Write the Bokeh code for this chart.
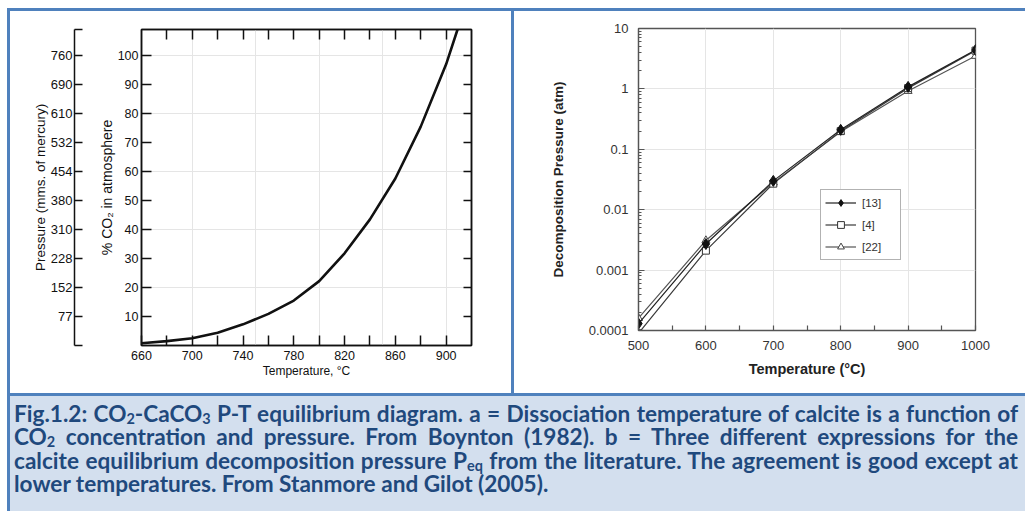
from bokeh.plotting import figure
from bokeh.models import (Range1d, LinearAxis, LogAxis, FixedTicker, Legend, LegendItem,
                          Div, Spacer)
from bokeh.layouts import row, column
from bokeh.embed import file_html
from bokeh.resources import INLINE

# ---------------- data : panel a (Boynton 1982) ----------------
temp_a = [660, 680, 700, 720, 740, 760, 780, 800, 820, 840, 860, 880, 900, 909]
co2_pct = [0.8, 1.5, 2.5, 4.4, 7.3, 10.9, 15.5, 22.2, 31.8, 43.5, 57.6, 75.5, 97.0, 109.0]
co2_ticks = [10, 20, 30, 40, 50, 60, 70, 80, 90, 100]
pressure_labels = ["77", "152", "228", "310", "380", "454", "532", "610", "690", "760"]
temp_a_labels = [660, 700, 740, 780, 820, 860, 900]
temp_a_minor = [680, 720, 760, 800, 840, 880]

# ---------------- data : panel b (Stanmore & Gilot 2005) ----------------
temp_b = [500, 600, 700, 800, 900, 1000]
p_13 = [0.00013, 0.0027, 0.030, 0.21, 1.08, 4.4]
p_4 = [0.00009, 0.0021, 0.027, 0.20, 1.03, 4.3]
p_22 = [0.00016, 0.0031, 0.028, 0.195, 0.92, 3.5]
series_labels = ["[13]", "[4]", "[22]"]
log_ticks = [0.0001, 0.001, 0.01, 0.1, 1, 10]
log_tick_labels = ["0.0001", "0.001", "0.01", "0.1", "1", "10"]
temp_b_ticks = [500, 600, 700, 800, 900, 1000]
temp_b_minor = [550, 650, 750, 850, 950]

BLUE = "#4F81BD"
CAP_BG = "#D3DFEE"
CAP_TXT = "#1F497D"
FA = "Liberation Sans"


def style_axis(ax, size, color, lcolor, lw):
    ax.major_label_text_font = FA
    ax.major_label_text_font_size = size
    ax.major_label_text_color = color
    ax.axis_label_text_font = FA
    ax.axis_line_color = lcolor
    ax.axis_line_width = lw
    ax.major_tick_line_color = lcolor
    ax.major_tick_line_width = lw
    ax.minor_tick_line_color = lcolor
    ax.minor_tick_line_width = lw


# ======================= panel a =======================
pa = figure(width=501, height=382, x_range=Range1d(660, 920), y_range=Range1d(0, 109),
            x_axis_location=None, y_axis_location=None,
            output_backend="svg", toolbar_location=None,
            min_border_left=131, min_border_right=40, min_border_top=18, min_border_bottom=48)
pa.frame_align = False
pa.outline_line_color = "#111111"
pa.outline_line_width = 1.5
pa.background_fill_color = "white"
pa.border_fill_color = "white"

ax_pct = LinearAxis(ticker=FixedTicker(ticks=co2_ticks), axis_label="% CO₂ in atmosphere")
style_axis(ax_pct, "12.5px", "#111111", "#111111", 1.5)
ax_pct.major_tick_in = 10
ax_pct.major_tick_out = 0
ax_pct.major_label_standoff = 3
ax_pct.axis_label_standoff = 0
ax_pct.axis_label_text_font_size = "14px"
ax_pct.axis_label_text_font_style = "normal"
ax_pct.axis_label_text_color = "#111111"
pa.add_layout(ax_pct, "left")

# empty axis used only as a spacer between the two left scales
ax_gap = LinearAxis(ticker=FixedTicker(ticks=[]), axis_label="\u00a0")
ax_gap.axis_line_color = None
ax_gap.major_tick_line_color = None
ax_gap.major_tick_in = 0
ax_gap.major_tick_out = 0
ax_gap.major_label_text_font_size = "0px"
ax_gap.major_label_standoff = 0
ax_gap.axis_label_text_font_size = "12px"
ax_gap.axis_label_standoff = 4
pa.add_layout(ax_gap, "left")

p_ticks = [0] + co2_ticks + [109]
p_over = {0: "", 109: ""}
for t, lab in zip(co2_ticks, pressure_labels):
    p_over[t] = lab
ax_p = LinearAxis(ticker=FixedTicker(ticks=p_ticks), major_label_overrides=p_over,
                  axis_label="Pressure (mms. of mercury)")
style_axis(ax_p, "13px", "#111111", "#111111", 1.5)
ax_p.major_tick_in = 8
ax_p.major_tick_out = 0
ax_p.major_label_standoff = 2
ax_p.axis_label_standoff = 0
ax_p.axis_label_text_font_size = "13.5px"
ax_p.axis_label_text_font_style = "normal"
ax_p.axis_label_text_color = "#111111"
pa.add_layout(ax_p, "left")

ax_ab = LinearAxis(ticker=FixedTicker(ticks=temp_a_labels, minor_ticks=temp_a_minor),
                   axis_label="Temperature, °C")
style_axis(ax_ab, "12.5px", "#111111", "#111111", 1.5)
ax_ab.major_tick_in = 10
ax_ab.major_tick_out = 0
ax_ab.minor_tick_in = 10
ax_ab.minor_tick_out = 0
ax_ab.major_label_standoff = 5
ax_ab.axis_label_standoff = 1
ax_ab.axis_label_text_font_size = "12px"
ax_ab.axis_label_text_font_style = "normal"
ax_ab.axis_label_text_color = "#111111"
pa.add_layout(ax_ab, "below")

top_ticks = temp_a_minor + temp_a_labels[1:]
ax_at = LinearAxis(ticker=FixedTicker(ticks=sorted(top_ticks)),
                   major_label_overrides={t: "" for t in top_ticks})
style_axis(ax_at, "0px", "#111111", "#111111", 1.5)
ax_at.major_tick_in = 10
ax_at.major_tick_out = 0
ax_at.major_label_standoff = 0
pa.add_layout(ax_at, "above")

ax_ar = LinearAxis(ticker=FixedTicker(ticks=co2_ticks),
                   major_label_overrides={t: "" for t in co2_ticks})
style_axis(ax_ar, "0px", "#111111", "#111111", 1.5)
ax_ar.major_tick_in = 8
ax_ar.major_tick_out = 0
ax_ar.major_label_standoff = 0
pa.add_layout(ax_ar, "right")

pa.line(temp_a, co2_pct, line_width=2.6, line_color="#111111")

# ======================= panel b =======================
pb = figure(width=511, height=382, x_range=Range1d(500, 1000), y_range=Range1d(0.0001, 10),
            y_axis_type="log", x_axis_location=None, y_axis_location=None,
            output_backend="svg", toolbar_location=None,
            min_border_left=124, min_border_right=50, min_border_top=17, min_border_bottom=63)
pb.frame_align = False
pb.outline_line_color = "#555555"
pb.outline_line_width = 1.3
pb.background_fill_color = "white"
pb.border_fill_color = "white"

log_minor = [k * t for t in log_ticks[:-1] for k in range(2, 10)]
ax_by = LogAxis(ticker=FixedTicker(ticks=log_ticks, minor_ticks=log_minor),
                major_label_overrides=dict(zip(log_ticks, log_tick_labels)),
                axis_label="Decomposition Pressure (atm)")
style_axis(ax_by, "13px", "#333333", "#555555", 1.2)
ax_by.major_tick_in = 6
ax_by.major_tick_out = 0
ax_by.minor_tick_in = 3
ax_by.minor_tick_out = 0
ax_by.major_label_standoff = 10
ax_by.axis_label_standoff = 20
ax_by.axis_label_text_font_size = "13.5px"
ax_by.axis_label_text_font_style = "bold"
ax_by.axis_label_text_color = "#222222"
pb.add_layout(ax_by, "left")

ax_bx = LinearAxis(ticker=FixedTicker(ticks=temp_b_ticks, minor_ticks=temp_b_minor),
                   axis_label="Temperature (°C)")
style_axis(ax_bx, "13px", "#333333", "#555555", 1.2)
ax_bx.major_tick_in = 5
ax_bx.major_tick_out = 0
ax_bx.minor_tick_in = 5
ax_bx.minor_tick_out = 0
ax_bx.major_label_standoff = 10
ax_bx.axis_label_standoff = 8
ax_bx.axis_label_text_font_size = "14.5px"
ax_bx.axis_label_text_font_style = "bold"
ax_bx.axis_label_text_color = "#222222"
pb.add_layout(ax_bx, "below")

LC = "#3a3a3a"
l22 = pb.line(temp_b, p_22, line_color="#555555", line_width=1.2)
s22 = pb.scatter(temp_b, p_22, marker="triangle", size=8, fill_color="white",
                 line_color="#444444", line_width=1)
l4 = pb.line(temp_b, p_4, line_color=LC, line_width=1.2)
s4 = pb.scatter(temp_b, p_4, marker="square", size=7, fill_color="white",
                line_color="#333333", line_width=1)
l13 = pb.line(temp_b, p_13, line_color="#222222", line_width=1.2)
s13 = pb.scatter(temp_b, p_13, marker="diamond", size=11, fill_color="#111111",
                 line_color="#111111")

legend = Legend(items=[LegendItem(label=series_labels[0], renderers=[l13, s13]),
                       LegendItem(label=series_labels[1], renderers=[l4, s4]),
                       LegendItem(label=series_labels[2], renderers=[l22, s22])],
                location=(182, 70))
legend.margin = 0
legend.padding = 4
legend.spacing = 5
legend.glyph_width = 31
legend.glyph_height = 17
legend.label_height = 17
legend.label_width = 34
legend.label_standoff = 6
legend.label_text_font = FA
legend.label_text_font_size = "11.5px"
legend.label_text_color = "#333333"
legend.border_line_color = "#666666"
legend.border_line_width = 1
legend.background_fill_color = "white"
legend.background_fill_alpha = 1
pb.add_layout(legend)

# ======================= caption =======================
caption_lines = [
    "Fig.1.2: CO<sub>2</sub>-CaCO<sub>3</sub> P-T equilibrium diagram. a = Dissociation temperature of calcite is a function of",
    "CO<sub>2</sub> concentration and pressure. From Boynton (1982). b = Three different expressions for the",
    "calcite equilibrium decomposition pressure P<sub>eq</sub> from the literature. The agreement is good except at",
    "lower temperatures. From Stanmore and Gilot (2005).",
]
sub_css = "font-size:64%;line-height:0;vertical-align:-0.16em;"
html_lines = []
for i, ln in enumerate(caption_lines):
    ln = ln.replace("<sub>", "<sub style='%s'>" % sub_css)
    last = "justify" if i < len(caption_lines) - 1 else "left"
    html_lines.append(
        "<div style='white-space:nowrap;text-align:justify;text-align-last:%s;"
        "width:100%%;height:23.3px;line-height:23.3px;'>%s</div>" % (last, ln))
cap_html = ("<div style=\"box-sizing:border-box;width:1015px;padding:6px 7px 0 4px;"
            "font-family:Lato;font-weight:bold;font-size:22.6px;color:%s;\">%s</div>"
            % (CAP_TXT, "".join(html_lines)))
caption = Div(text=cap_html, width=1015, height=115, margin=0,
              styles={"background-color": CAP_BG, "overflow": "hidden"})


def bar(w, h, color=BLUE):
    return Div(text="", width=w, height=h, margin=0,
               styles={"background-color": color})


inner = column(
    bar(1018, 3),
    row(bar(3, 382), pa, bar(3, 382), pb, spacing=0),
    bar(1018, 3),
    row(bar(3, 115), caption, spacing=0),
    spacing=0,
)
root = column(Spacer(width=1025, height=8, margin=0),
              row(Spacer(width=7, height=503, margin=0), inner, spacing=0),
              spacing=0)

open("out.html", "w").write(file_html(root, INLINE))
